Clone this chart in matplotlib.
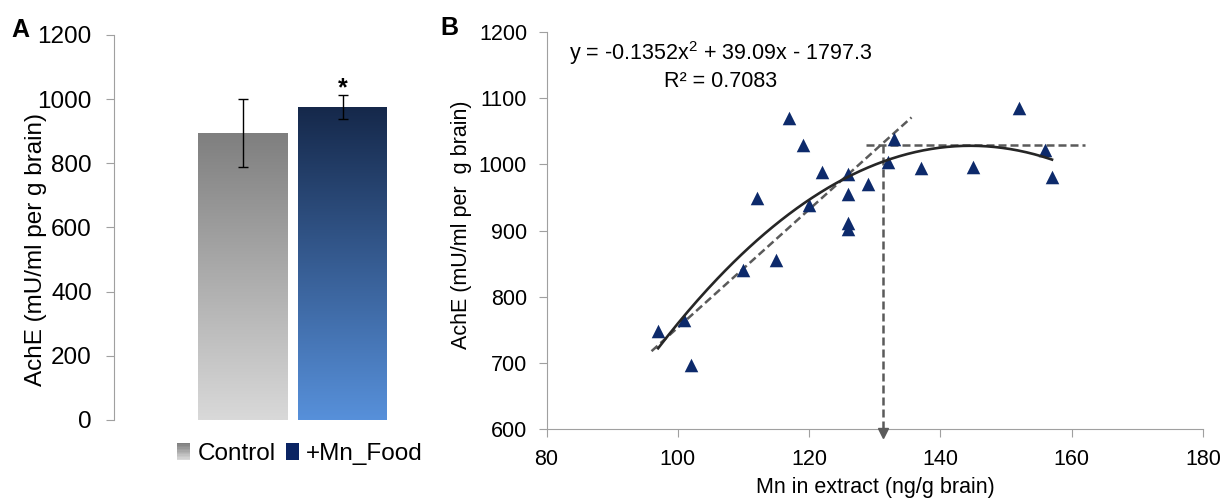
import numpy as np
import matplotlib
matplotlib.use("Agg")
import matplotlib.pyplot as plt
from matplotlib.colors import LinearSegmentedColormap
from matplotlib.patches import Rectangle, Patch
from matplotlib.legend_handler import HandlerBase

plt.rcParams['font.family'] = ['Liberation Sans', 'DejaVu Sans']
plt.rcParams['mathtext.fontset'] = 'custom'
plt.rcParams['mathtext.rm'] = 'Liberation Sans'

# ---- panel A data ----
groups = ['Control', '+Mn_Food']
ache_mean = [894, 976]
ache_err = [105, 38]

# ---- panel B data ----
mn = [97, 101, 102, 110, 112, 115, 117, 119, 120, 122, 126, 126, 126, 126,
      129, 132, 133, 137, 145, 152, 156, 157]
ache = [749, 765, 697, 841, 949, 856, 1070, 1029, 939, 988, 985, 955, 912, 902,
        971, 1004, 1038, 994, 996, 1085, 1022, 981]
poly_coef = [-0.1352, 39.09, -1797.3]   # trendline shown on chart
poly_range = [97, 157]
lin_x = [96.0, 135.6]
lin_y = [718, 1071]
plateau_x = [128.6, 162]
plateau_y = 1030
threshold_x = 131.2

W, H = 1223, 499
fig = plt.figure(figsize=(W / 100, H / 100), dpi=100)

def px(x0, y0, x1, y1):
    return [x0 / W, 1 - y1 / H, (x1 - x0) / W, (y1 - y0) / H]

grey = '#a0a0a0'

# ================= panel A =================
axA = fig.add_axes(px(114, 35, 471, 420))
xpos = np.arange(len(groups))
bars = axA.bar(xpos, ache_mean, width=0.89, facecolor='none', edgecolor='none')
grads = [('#d9d9d9', '#7f7f7f'), ('#5790da', '#15284a')]
g = np.linspace(0, 1, 256).reshape(-1, 1)
for b, (c0, c1) in zip(bars, grads):
    cm = LinearSegmentedColormap.from_list('g', [c0, c1])
    im = axA.imshow(g, extent=[b.get_x(), b.get_x() + b.get_width(), 0, b.get_height()],
                    origin='lower', aspect='auto', cmap=cm, zorder=1)
    im.set_clip_path(b)
axA.errorbar(xpos, ache_mean, yerr=ache_err, fmt='none', ecolor='black',
             elinewidth=1.0, capsize=3.6, capthick=1.0, zorder=3)
axA.text(1, 1013, '*', ha='center', va='baseline', fontsize=18, fontweight='bold')
axA.set_xlim(-1.285, 2.285)
axA.set_ylim(0, 1200)
axA.set_yticks(range(0, 1201, 200))
axA.set_xticks([])
for s in ['top', 'right', 'bottom']:
    axA.spines[s].set_visible(False)
axA.spines['left'].set_color(grey)
axA.tick_params(axis='y', colors=grey, labelcolor='black', labelsize=17.5,
                length=6, pad=10)


class GradPatch(Patch):
    pass


class GradHandler(HandlerBase):
    def create_artists(self, legend, orig, xd, yd, width, height, fontsize, trans):
        n = 12
        cm = LinearSegmentedColormap.from_list('h', ['#d9d9d9', '#7f7f7f'])
        out = []
        for i in range(n):
            r = Rectangle((-xd, -yd + i * height / n), width, height / n + 0.2,
                          facecolor=cm(i / (n - 1)), edgecolor='none', transform=trans)
            out.append(r)
        return out


handles = [GradPatch(), Patch(facecolor='#0a2463', edgecolor='none')]
leg = axA.legend(handles, groups, handler_map={GradPatch: GradHandler()},
                 loc='center', bbox_to_anchor=(300 / W, 1 - 454 / H),
                 bbox_transform=fig.transFigure, ncol=2, frameon=False,
                 fontsize=17.5, handlelength=0.55, handleheight=0.7,
                 handletextpad=0.3, columnspacing=0.4, borderpad=0)

fig.text(36 / W, 1 - 250 / H, 'AchE (mU/ml per g brain)', rotation=90,
         ha='center', va='center', fontsize=17.5)
fig.text(20 / W, 1 - 30 / H, 'A', ha='center', va='center', fontsize=18,
         fontweight='bold')

# ================= panel B =================
axB = fig.add_axes(px(546.5, 32, 1203, 429.3))
axB.scatter(mn, ache, marker='^', s=95, color='#0d2a6b', zorder=3, linewidths=0)
xx = np.linspace(poly_range[0], poly_range[1], 200)
axB.plot(xx, np.polyval(poly_coef, xx), color='#262626', lw=1.9, zorder=4)
dash = dict(color='#5a5a5a', lw=1.8, dashes=(3.2, 1.6), zorder=2)
axB.plot(lin_x, lin_y, **dash)
axB.plot(plateau_x, [plateau_y, plateau_y], **dash)
axB.plot([threshold_x, threshold_x], [plateau_y, 596], clip_on=False, **dash)
axB.plot([threshold_x], [594], marker='v', ms=7, color='#5a5a5a', clip_on=False,
         zorder=5)

axB.text(106.5, 1168, 'y = -0.1352x$\\mathregular{^2}$ + 39.09x - 1797.3',
         ha='center', va='center', fontsize=15.5)
axB.text(106.5, 1126, 'R\u00b2 = 0.7083', ha='center', va='center', fontsize=15.5)

axB.set_xlim(80, 180)
axB.set_ylim(600, 1200)
axB.set_xticks(range(80, 181, 20))
axB.set_yticks(range(600, 1201, 100))
for s in ['top', 'right']:
    axB.spines[s].set_visible(False)
for s in ['left', 'bottom']:
    axB.spines[s].set_color(grey)
axB.tick_params(colors=grey, labelcolor='black', labelsize=15.5, length=6, pad=8)

fig.text(461 / W, 1 - 225 / H, 'AchE (mU/ml per  g brain)', rotation=90,
         ha='center', va='center', fontsize=15.5)
fig.text(875 / W, 1 - 498 / H, 'Mn in extract (ng/g brain)', ha='center',
         va='bottom', fontsize=15.5)
fig.text(449 / W, 1 - 28 / H, 'B', ha='center', va='center', fontsize=18,
         fontweight='bold')

fig.savefig('out.png', dpi=100)
